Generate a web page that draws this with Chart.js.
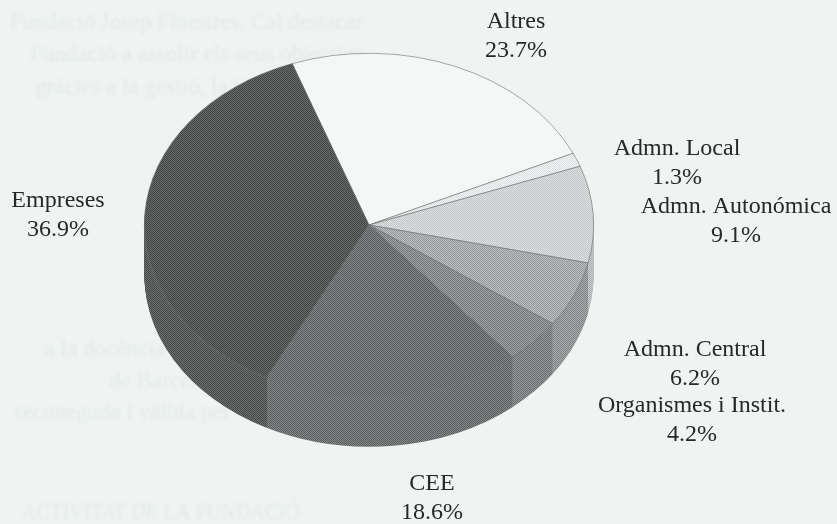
<!DOCTYPE html>
<html>
<head>
<meta charset="utf-8">
<style>
html,body{margin:0;padding:0;background:#eff4f3;width:837px;height:524px;overflow:hidden}
#c{position:absolute;left:0;top:0}
</style>
<script src="https://cdn.jsdelivr.net/npm/chart.js@4"></script>
</head>
<body>
<canvas id="c" width="837" height="524"></canvas>
<script>
const categories = ['Altres','Admn. Local','Admn. Autonómica','Admn. Central','Organismes i Instit.','CEE','Empreses'];
const shares = [23.7,1.3,9.1,6.2,4.2,18.6,36.9];
const faceTones = ['#f3f7f6','#e6eaea','#cfd3d3','#a9acac','#8a8d8d','#6e7171','#565858'];
const sideTones = ['#dde1e1','#cdd1d1','#b9bdbd','#949797','#808383','#707373','#5a5c5c'];
const labelAnchors = [[516,22],[677,149],[736,207],[695,350],[692,406],[432,484],[58,201]];
const showThroughText = ['Fundació Josep Finestres. Cal destacar','Fundació a assolir els seus objectius','gràcies a la gestió, la Universitat de','a la docència','de Barcelona','reconeguda i vàlida per','ACTIVITAT DE LA FUNDACIÓ'];
const showThroughAnchors = [[363,23],[363,55],[363,88],[165,350],[230,382],[230,413],[300,513]];
const showThroughWidths = [353,353,353,160,160,225,278];

const FLATTEN = 172/225, DEPTH = 50, SPREAD = 24;

function dither(hex){
  const n = parseInt(hex.slice(1),16), r=n>>16, g=(n>>8)&255, b=n&255;
  const cv = document.createElement('canvas'); cv.width = cv.height = 2;
  const x = cv.getContext('2d');
  const amt = hex === faceTones[0] ? 0 : Math.round(SPREAD*(1-Math.abs(r-128)/190));
  x.fillStyle = `rgb(${r+amt},${g+amt},${b+amt})`; x.fillRect(0,0,2,2);
  x.fillStyle = `rgb(${r-amt},${g-amt},${b-amt})`; x.fillRect(0,0,1,1); x.fillRect(1,1,1,1);
  return x.createPattern(cv,'repeat');
}
const facePatterns = faceTones.map(dither);
const sidePatterns = sideTones.map(dither);

const tilt = {
  id:'tilt',
  beforeDraw(chart){
    const ctx = chart.ctx;
    ctx.save();
    ctx.filter = 'blur(1.4px)';
    ctx.fillStyle = '#e2e8e7';
    ctx.font = '23px "Liberation Serif"';
    ctx.textAlign = 'right';
    ctx.textBaseline = 'middle';
    showThroughText.forEach((t,i)=>ctx.fillText(t,showThroughAnchors[i][0],showThroughAnchors[i][1],showThroughWidths[i]));
    ctx.restore();
  },
  beforeDatasetsDraw(chart){
    const ctx = chart.ctx, arcs = chart.getDatasetMeta(0).data;
    const cx = arcs[0].x, cy = arcs[0].y;
    const place = dy => {
      ctx.translate(cx,cy+dy); ctx.scale(1,FLATTEN); ctx.translate(-cx,-cy);
      const inv = ctx.getTransform().inverse();
      facePatterns.concat(sidePatterns).forEach(p=>p.setTransform(inv));
    };
    for(let d=DEPTH;d>0;d--){
      ctx.save(); place(d);
      arcs.forEach((arc,i)=>{
        const a = Object.create(arc);
        a.options = {...arc.options, backgroundColor:sidePatterns[i], borderWidth:0};
        a.draw(ctx);
      });
      ctx.restore();
    }
    ctx.save(); place(0);
  },
  afterDatasetsDraw(chart){ chart.ctx.restore(); },
  afterDraw(chart){
    const ctx = chart.ctx;
    ctx.save();
    ctx.fillStyle = '#26282a';
    ctx.font = '24px "Liberation Serif"';
    ctx.textAlign = 'center';
    ctx.textBaseline = 'middle';
    categories.forEach((name,i)=>{
      const [x,y] = labelAnchors[i];
      ctx.fillText(name,x,y);
      ctx.fillText(shares[i].toFixed(1)+'%',x,y+29);
    });
    ctx.restore();
  }
};

new Chart(document.getElementById('c'),{
  type:'pie',
  plugins:[tilt],
  data:{labels:categories,datasets:[{
    data:shares,
    backgroundColor:facePatterns,
    borderColor:'#6f7373',
    borderWidth:0.7,
    borderAlign:'center'
  }]},
  options:{
    responsive:false,
    devicePixelRatio:1,
    animation:false,
    rotation:-20,
    layout:{padding:{left:144,right:243,top:0,bottom:74}},
    plugins:{legend:{display:false},tooltip:{enabled:false}}
  }
});
</script>
</body>
</html>
